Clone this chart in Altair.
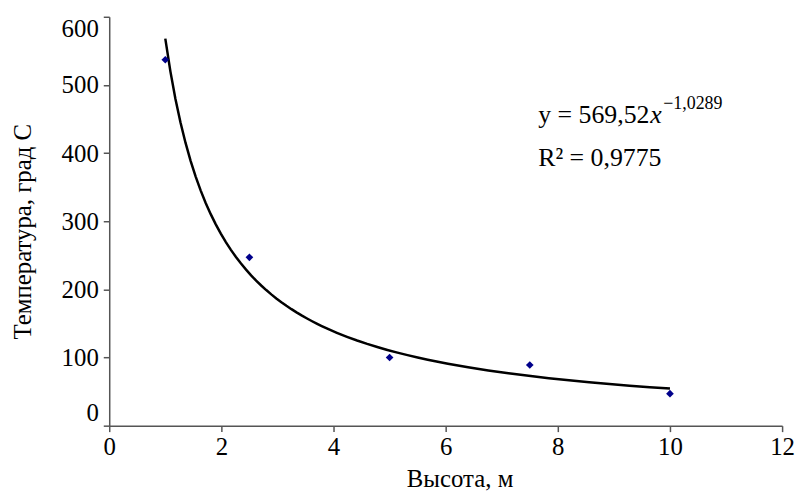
import altair as alt
import pandas as pd

# Data
heights = [1, 2.5, 5, 7.5, 10]
temps = [537, 247, 100, 89, 47]

x_ticks = [0, 2, 4, 6, 8, 10, 12]
y_ticks = [0, 100, 200, 300, 400, 500, 600]

eq_main = ["y = 569,52"]
eq_var = ["x"]
eq_exp = ["\u22121,0289"]
r2_text = ["R\u00b2 = 0,9775"]

df = pd.DataFrame({"h": heights, "t": temps})

FONT = "Liberation Serif"
W, H = 678, 412

xenc = alt.X(
    "h:Q",
    scale=alt.Scale(domain=[0, 12], nice=False),
    axis=alt.Axis(values=x_ticks, title="Высота, м", format="d",
                  labelFlush=False, titleX=W / 2 + 14),
)
yenc = alt.Y(
    "t:Q",
    scale=alt.Scale(domain=[0, 600], nice=False),
    axis=alt.Axis(values=y_ticks, title="Температура, град С", format="d",
                  labelFlush=True, titleY=216),
)

points = alt.Chart(df).mark_point(
    shape="diamond", filled=True, color="#00008B", size=60, opacity=1
).encode(x=xenc, y=yenc)

trend = alt.Chart(df).transform_regression(
    "h", "t", method="pow"
).mark_line(color="black", strokeWidth=2.5).encode(x="h:Q", y="t:Q")

# annotation anchors (data coordinates)
ax, ay1, ay2 = 7.65, 444, 381

t1 = alt.Chart(pd.DataFrame({"s": eq_main})).mark_text(
    align="left", baseline="alphabetic", font=FONT, fontSize=26, color="black"
).encode(x=alt.datum(ax), y=alt.datum(ay1), text="s:N")
t2 = alt.Chart(pd.DataFrame({"s": eq_var})).mark_text(
    align="left", baseline="alphabetic", font=FONT, fontSize=26, fontStyle="italic",
    color="black", dx=113
).encode(x=alt.datum(ax), y=alt.datum(ay1), text="s:N")
t3 = alt.Chart(pd.DataFrame({"s": eq_exp})).mark_text(
    align="left", baseline="alphabetic", font=FONT, fontSize=18, color="black",
    dx=126, dy=-14
).encode(x=alt.datum(ax), y=alt.datum(ay1), text="s:N")
t4 = alt.Chart(pd.DataFrame({"s": r2_text})).mark_text(
    align="left", baseline="alphabetic", font=FONT, fontSize=26, color="black"
).encode(x=alt.datum(ax), y=alt.datum(ay2), text="s:N")

chart = alt.layer(trend, points, t1, t2, t3, t4).properties(
    width=W,
    height=H,
    autosize=alt.AutoSizeParams(type="none"),
    padding={"left": 102, "top": 7, "right": 14, "bottom": 68},
).configure_view(stroke=None).configure_axis(
    grid=False,
    labelFont=FONT,
    titleFont=FONT,
    labelFontSize=25,
    titleFontSize=25,
    titleFontWeight="normal",
    labelColor="black",
    titleColor="black",
    domainColor="#555555",
    tickColor="#555555",
    domainWidth=1.5,
    tickWidth=1.5,
    tickSize=6,
).configure_axisX(
    labelPadding=3, titlePadding=7
).configure_axisY(
    labelPadding=5, titlePadding=26
)

chart.save("out.html", embed_options={"renderer": "svg", "actions": False})
